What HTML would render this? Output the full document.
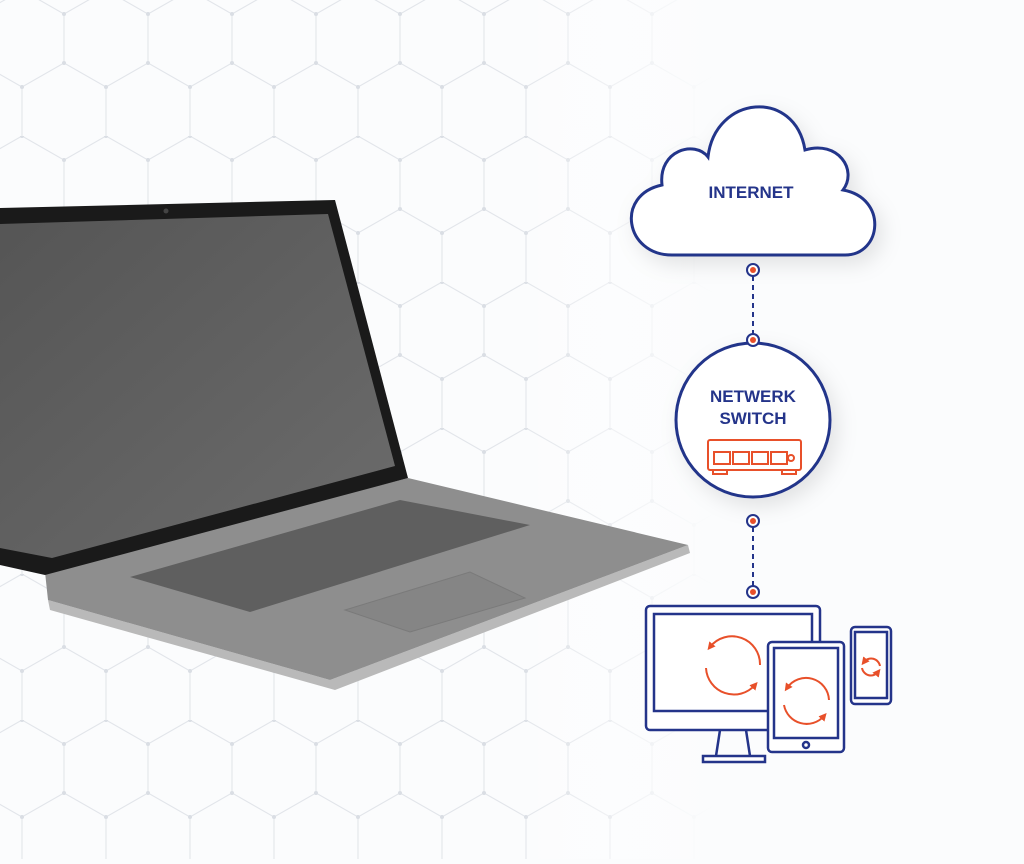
<!DOCTYPE html>
<html><head><style>
body{margin:0;width:1024px;height:859px;overflow:hidden;background:#fbfcfd;font-family:"Liberation Sans",sans-serif}
</style></head><body>
<svg width="1024" height="859" viewBox="0 0 1024 859" xmlns="http://www.w3.org/2000/svg">
<defs>
<pattern id="hex" width="84" height="146" patternUnits="userSpaceOnUse" x="-20" y="-10">
<path d="M42 0 L84 24 L84 73 L42 97 L0 73 L0 24 Z M42 97 L42 146 M0 24 L-42 0 M84 24 L126 0" fill="none" stroke="#e2e5ea" stroke-width="1.1"/>
<circle cx="42" cy="0" r="2" fill="#dadee4"/><circle cx="84" cy="24" r="2" fill="#dadee4"/><circle cx="84" cy="73" r="2" fill="#dadee4"/><circle cx="42" cy="97" r="2" fill="#dadee4"/><circle cx="0" cy="73" r="2" fill="#dadee4"/><circle cx="0" cy="24" r="2" fill="#dadee4"/>
</pattern>
<linearGradient id="fade" x1="0" x2="1"><stop offset="0" stop-color="#fff" stop-opacity="0"/><stop offset="0.5" stop-color="#fff" stop-opacity="0"/><stop offset="0.7" stop-color="#fbfcfd" stop-opacity="1"/></linearGradient>
<linearGradient id="scr" x1="0" y1="0" x2="1" y2="1"><stop offset="0" stop-color="#555"/><stop offset="1" stop-color="#6c6c6c"/></linearGradient>
<filter id="sh" x="-30%" y="-30%" width="160%" height="160%"><feDropShadow dx="6" dy="8" stdDeviation="10" flood-color="#000" flood-opacity="0.1"/></filter>
<marker id="ah" viewBox="0 0 10 10" refX="5" refY="5" markerWidth="4" markerHeight="4" orient="auto"><path d="M0 0 L10 5 L0 10 Z" fill="#e8502a"/></marker>
</defs>
<rect width="1024" height="859" fill="url(#hex)"/>
<rect width="1024" height="859" fill="url(#fade)"/>
<!-- laptop -->
<polygon points="48,600 330,680 688,545 690,553 335,690 50,610" fill="#b9b9b9"/>
<polygon points="45,572 408,478 688,545 330,680 48,600" fill="#8e8e8e"/>
<polygon points="130,577 400,500 530,525 250,612" fill="#5f5f5f"/>
<polygon points="345,610 470,572 525,598 410,632" fill="#858585" stroke="#7a7a7a"/>
<polygon points="0,208 335,200 408,478 45,575 0,565" fill="#1a1a1a"/>
<polygon points="0,224 328,214 395,466 52,558 0,548" fill="url(#scr)"/>
<circle cx="166" cy="211" r="2.5" fill="#444"/>
<!-- cloud -->
<g filter="url(#sh)">
<path d="M672 255 C625 255 615 195 662 185 C658 150 695 140 708 157 C715 95 795 88 805 150 C838 140 858 170 843 190 C888 198 882 255 845 255 Z" fill="#fff" stroke="#24348a" stroke-width="3"/>
<circle cx="753" cy="420" r="77" fill="#fff" stroke="#24348a" stroke-width="3"/>
</g>
<text x="751" y="198" text-anchor="middle" font-size="17" font-weight="bold" fill="#24348a">INTERNET</text>
<text x="753" y="402" text-anchor="middle" font-size="17" font-weight="bold" fill="#24348a">NETWERK</text>
<text x="753" y="424" text-anchor="middle" font-size="17" font-weight="bold" fill="#24348a">SWITCH</text>
<g fill="none" stroke="#e8502a" stroke-width="2">
<rect x="708" y="440" width="93" height="30" rx="2"/>
<path d="M713 470v4h14v-4 M782 470v4h14v-4"/>
<path d="M714 452h16v12h-16z M733 452h16v12h-16z M752 452h16v12h-16z M771 452h16v12h-16z"/>
<circle cx="791" cy="458" r="3"/>
</g>
<!-- connectors -->
<g stroke="#24348a" stroke-width="2" stroke-dasharray="5 4"><line x1="753" y1="276" x2="753" y2="334"/><line x1="753" y1="527" x2="753" y2="586"/></g>
<g fill="#fff" stroke="#24348a" stroke-width="2">
<circle cx="753" cy="270" r="6"/><circle cx="753" cy="340" r="6"/><circle cx="753" cy="521" r="6"/><circle cx="753" cy="592" r="6"/></g>
<g fill="#e8502a"><circle cx="753" cy="270" r="3"/><circle cx="753" cy="340" r="3"/><circle cx="753" cy="521" r="3"/><circle cx="753" cy="592" r="3"/></g>
<!-- devices -->
<g fill="#fff" stroke="#24348a" stroke-width="2.5">
<rect x="646" y="606" width="174" height="124" rx="4"/>
<rect x="654" y="614" width="158" height="97"/>
<path d="M720 730 L716 756 M746 730 L750 756"/>
<rect x="703" y="756" width="62" height="6"/>
<rect x="768" y="642" width="76" height="110" rx="4"/>
<rect x="774" y="648" width="64" height="90"/>
<circle cx="806" cy="745" r="3"/>
<rect x="851" y="627" width="40" height="77" rx="4"/>
<rect x="855" y="632" width="32" height="66"/>
</g>
<g fill="none" stroke="#e8502a" stroke-width="2" marker-end="url(#ah)">
<path d="M760 665 A28 28 0 0 0 710 647"/><path d="M706 668 A28 28 0 0 0 755 685"/>
<path d="M829 700 A23 23 0 0 0 787 688"/><path d="M784 705 A23 23 0 0 0 824 716"/>
<path d="M880 666 A9 9 0 0 0 864 662"/><path d="M862 668 A9 9 0 0 0 878 672"/>
</g>
</svg>
</body></html>
